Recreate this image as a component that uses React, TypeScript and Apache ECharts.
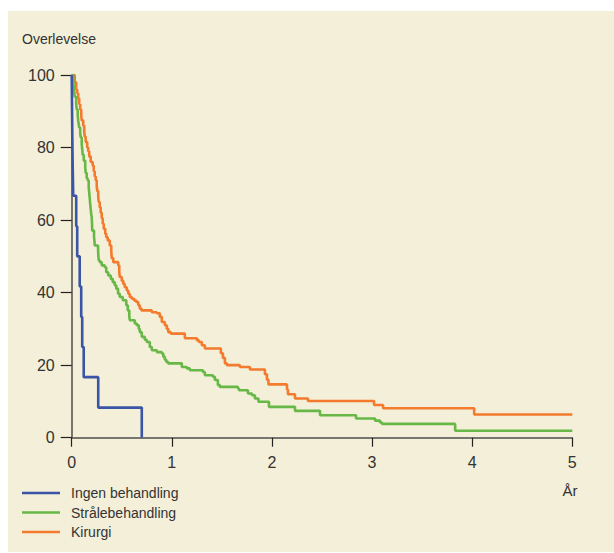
import React, { useEffect, useRef } from "react";
import * as echarts from "echarts";

const seriesNames = ["Ingen behandling", "Strålebehandling", "Kirurgi"];
const seriesColors = ["#3b55a6", "#67b847", "#f47b2e"];

const xTicks = [0, 1, 2, 3, 4, 5];
const yTicks = [0, 20, 40, 60, 80, 100];

// [years, survival %] — value holds from this time until the next point
const ingenBehandling: [number, number][] = [
  [0, 100], [0.003, 91.7], [0.006, 83.3], [0.01, 75], [0.015, 66.7],
  [0.045, 58.3], [0.055, 50], [0.08, 41.7], [0.095, 33.3], [0.105, 25],
  [0.12, 16.7], [0.265, 8.3], [0.7, 0],
];

const straalebehandling: [number, number][] = [
  [0, 100], [0.015, 98.5], [0.02, 97], [0.025, 95.5], [0.03, 94], [0.045, 92],
  [0.05, 90.5], [0.06, 89], [0.065, 87.4], [0.07, 86.5], [0.075, 85.5],
  [0.085, 84], [0.09, 82.8], [0.1, 81], [0.105, 79.5], [0.11, 78], [0.12, 76.4],
  [0.135, 74.5], [0.14, 73], [0.15, 71.5], [0.16, 70.9], [0.17, 69],
  [0.175, 67.5], [0.18, 66], [0.185, 64.4], [0.19, 63], [0.195, 61.7],
  [0.2, 60.8], [0.203, 59], [0.205, 57.1], [0.223, 55.3], [0.228, 54],
  [0.23, 53], [0.263, 52.5], [0.265, 50.7], [0.27, 48.9], [0.28, 48.4],
  [0.3, 47.5], [0.33, 47], [0.345, 45.6], [0.365, 44.7], [0.39, 43.8],
  [0.41, 42.9], [0.43, 42], [0.445, 41.1], [0.463, 39.7], [0.48, 38.8],
  [0.51, 37.9], [0.545, 36.5], [0.56, 35.1], [0.575, 33.5], [0.58, 32.4],
  [0.63, 31.5], [0.65, 31], [0.67, 30], [0.68, 29.1], [0.7, 27.8], [0.73, 27],
  [0.75, 26.4], [0.78, 25], [0.8, 24.1], [0.85, 23.6], [0.9, 23.2],
  [0.915, 22.3], [0.93, 21.5], [0.945, 20.9], [0.963, 20.5], [1.1, 19.5],
  [1.15, 19.1], [1.18, 18.6], [1.31, 18.1], [1.33, 17.2], [1.41, 16.8],
  [1.43, 15.9], [1.46, 14.5], [1.48, 14], [1.66, 13.6], [1.67, 13.1],
  [1.76, 12.2], [1.8, 11.7], [1.83, 10.8], [1.865, 9.9], [1.97, 8.5],
  [2.23, 7.4], [2.48, 6.2], [2.84, 5.3], [3.03, 4.7], [3.08, 4.2], [3.1, 3.8],
  [3.83, 1.9], [5.0, 1.9],
];

const kirurgi: [number, number][] = [
  [0, 100], [0.03, 98], [0.045, 96], [0.055, 95], [0.065, 93.5], [0.075, 92],
  [0.085, 90.5], [0.095, 89], [0.1, 87.5], [0.115, 86], [0.125, 84.5],
  [0.13, 83], [0.14, 81.5], [0.155, 80], [0.165, 79], [0.175, 77.5],
  [0.19, 76], [0.21, 75], [0.22, 73.5], [0.23, 72], [0.24, 71], [0.25, 69.5],
  [0.255, 68], [0.265, 66.5], [0.27, 65], [0.28, 63.5], [0.29, 62],
  [0.3, 60.5], [0.31, 59], [0.32, 57.6], [0.335, 56.2], [0.345, 55.3],
  [0.36, 54.4], [0.38, 53], [0.395, 51.5], [0.4, 49.5], [0.415, 48.4],
  [0.465, 47.5], [0.475, 45.8], [0.48, 44.3], [0.5, 43.3], [0.515, 42.4],
  [0.53, 41.5], [0.55, 40.6], [0.565, 39.7], [0.58, 38.8], [0.6, 38.3],
  [0.625, 37.8], [0.645, 37.4], [0.665, 36.5], [0.68, 35.6], [0.697, 35.1],
  [0.8, 34.6], [0.85, 34.3], [0.88, 33.3], [0.9, 31.9], [0.93, 31],
  [0.95, 30], [0.965, 29.1], [0.99, 28.7], [1.13, 27.4], [1.25, 26.9],
  [1.27, 26.4], [1.3, 25.5], [1.33, 24.6], [1.49, 23.3], [1.51, 22],
  [1.53, 20.5], [1.55, 20], [1.68, 19.5], [1.78, 18.8], [1.93, 17.5],
  [1.95, 16], [1.965, 14.7], [2.15, 13.3], [2.16, 12], [2.23, 10.8],
  [2.36, 10.1], [3.02, 9.0], [3.11, 8.1], [4.02, 6.4], [5.0, 6.4],
];

const seriesData = [ingenBehandling, straalebehandling, kirurgi];

export default function App() {
  const ref = useRef<HTMLDivElement>(null);

  useEffect(() => {
    if (!ref.current) return;
    const chart = echarts.init(ref.current, undefined, { renderer: "svg" });
    const textColor = "#333333";
    const font = "'Liberation Sans', Arial, sans-serif";
    chart.setOption({
      animation: false,
      backgroundColor: "#f3efd8",
      textStyle: { fontFamily: font },
      grid: { left: 63.7, top: 64, width: 500.6, height: 362.7, containLabel: false },
      xAxis: {
        type: "value",
        min: xTicks[0],
        max: xTicks[xTicks.length - 1],
        interval: 1,
        axisLine: { show: true, lineStyle: { color: "#4d4d4d", width: 1.5 } },
        axisTick: { show: true, length: 9, lineStyle: { color: "#222", width: 1.2 } },
        axisLabel: { color: textColor, fontSize: 16, margin: 17, fontFamily: font },
        splitLine: { show: false },
      },
      yAxis: {
        type: "value",
        min: yTicks[0],
        max: yTicks[yTicks.length - 1],
        interval: 20,
        axisLine: { show: true, lineStyle: { color: "#4d4d4d", width: 1.5 } },
        axisTick: { show: true, length: 11, lineStyle: { color: "#222", width: 1.2 } },
        axisLabel: { color: textColor, fontSize: 16, margin: 17, fontFamily: font },
        splitLine: { show: false },
      },
      legend: {
        orient: "vertical",
        left: 14,
        top: 474,
        padding: 0,
        icon: "rect",
        itemWidth: 38,
        itemHeight: 2.5,
        itemGap: 3.5,
        data: seriesNames,
        textStyle: {
          color: textColor,
          fontSize: 14,
          lineHeight: 16,
          padding: [0, 0, 0, 6],
          fontFamily: font,
        },
      },
      graphic: [
        {
          type: "text",
          left: 14,
          top: 21,
          style: { text: "Overlevelse", fill: textColor, fontSize: 14, fontFamily: font },
        },
        {
          type: "text",
          x: 562,
          y: 479,
          style: {
            text: "År",
            fill: textColor,
            fontSize: 15,
            fontFamily: font,
            align: "center",
            verticalAlign: "middle",
          },
        },
      ],
      series: seriesNames.map((name, i) => ({
        name,
        type: "line",
        step: "end",
        data: seriesData[i],
        showSymbol: false,
        symbol: "none",
        color: seriesColors[i],
        lineStyle: { color: seriesColors[i], width: 2.6 },
        z: 3 - i,
      })),
    });
    return () => chart.dispose();
  }, []);

  return (
    <div
      ref={ref}
      style={{ position: "absolute", left: 8, top: 11, width: 606, height: 541 }}
    />
  );
}
